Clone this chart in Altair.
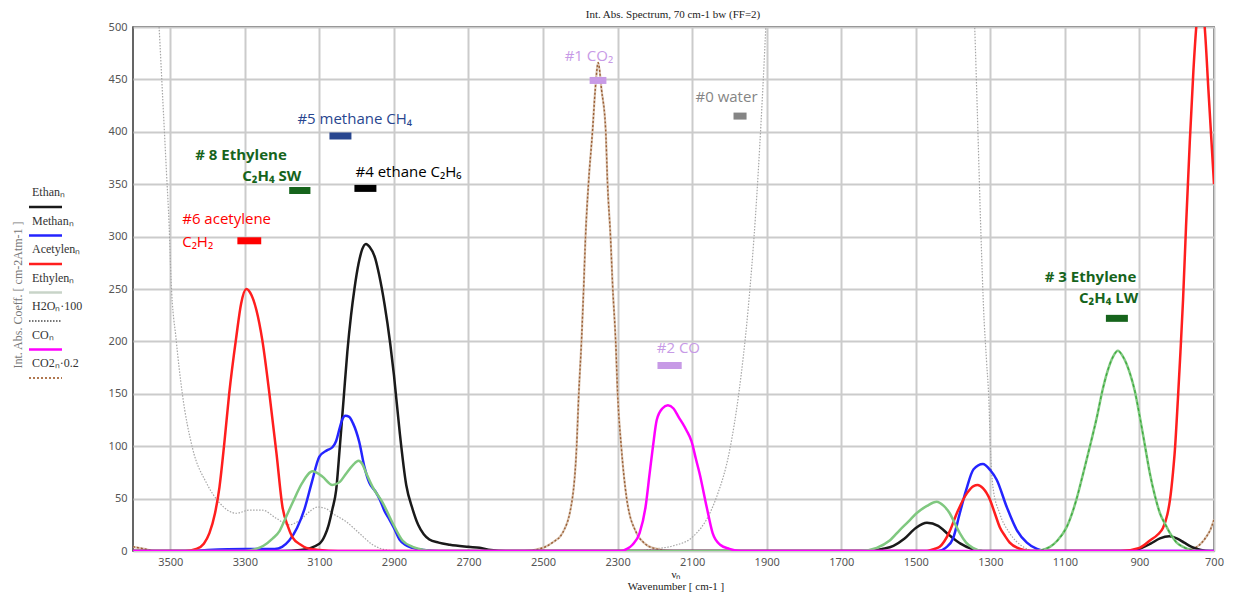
import altair as alt
import pandas as pd

# ---------------- data ----------------
ETHANE_WN = [3600, 3200, 3150, 3100, 3085, 3075, 3065, 3055, 3045, 3035, 3025, 3015, 3006, 2995, 2985, 2975, 2965, 2950, 2940, 2925,
             2910, 2900, 2885, 2867, 2850, 2835, 2820, 2805, 2780, 2750, 2700, 2670, 2640, 2600,
             1620, 1590, 1560, 1530, 1500, 1470, 1440, 1410, 1380, 1350, 1320,
             930, 900, 870, 845, 820, 800, 780, 760, 735, 710, 700]
ETHANE_V = [0, 0, 1, 7, 15, 25, 40, 58, 100, 145, 190, 225, 250, 274, 288, 293, 290, 279, 264, 235,
            198, 168, 115, 63, 40, 25, 16, 11, 8, 6, 4, 3, 1, 0,
            0, 2, 5, 12, 22, 27, 24, 15, 7, 2, 0,
            0, 2, 7, 12, 14, 12, 8, 4, 1, 0, 0]

METHANE_WN = [3600, 3450, 3400, 3300, 3220, 3200, 3181, 3160, 3140, 3120, 3100, 3080, 3065, 3055, 3045, 3038, 3030, 3020, 3010, 2993,
              2979, 2966, 2950, 2939, 2925, 2912, 2900, 2885, 2870, 2850, 2820, 2780,
              1440, 1420, 1400, 1382, 1365, 1345, 1320, 1300, 1283, 1256, 1229, 1202, 1175, 1150, 700]
METHANE_V = [0, 0, 1, 2, 2, 4, 10, 22, 40, 66, 90, 96, 99, 105, 118, 126, 129, 128, 122, 104,
             80, 65, 57, 50, 38, 30, 22, 11, 6, 3, 1, 0,
             0, 3, 12, 36, 58, 78, 83, 77, 68, 42, 20, 8, 2, 0, 0]

ACETYLENE_WN = [3600, 3460, 3430, 3410, 3395, 3380, 3368, 3355, 3342, 3323, 3310, 3296, 3282, 3269, 3253, 3234, 3215, 3199, 3185, 3172,
                3150, 3135, 3100, 3050,
                1470, 1450, 1436, 1410, 1390, 1363, 1345, 1334, 1320, 1301, 1288, 1275, 1260, 1248, 1220, 1190,
                950, 900, 872, 850, 837, 825, 818, 810, 805, 797, 790, 783, 775, 765, 755, 745, 735, 725, 715, 700]
ACETYLENE_V = [0, 0, 2, 7, 17, 36, 61, 103, 150, 204, 236, 250, 244, 230, 201, 150, 93, 42, 24, 13,
               6, 3, 1, 0,
               0, 2, 4, 18, 36, 55, 62, 63, 60, 49, 36, 23, 14, 8, 2, 0,
               0, 3, 10, 16, 22, 35, 49, 75, 96, 144, 190, 240, 310, 390, 460, 510, 525, 500, 440, 350]

ETHYLENE_WN = [3600, 3300, 3270, 3250, 3225, 3207, 3190, 3172, 3146, 3118, 3092, 3065, 3045, 3028, 3010, 2995, 2985, 2974, 2957, 2930,
               2904, 2877, 2850, 2820, 2790,
               1650, 1605, 1570, 1543, 1520, 1498, 1470, 1444, 1425, 1409, 1395, 1382, 1365, 1347, 1320,
               1180, 1140, 1120, 1095, 1070, 1051, 1030, 1014, 1000, 987, 970, 958, 945, 926, 912, 899, 885, 872, 858, 845,
               830, 818, 800, 783, 760, 740, 700]
ETHYLENE_V = [0, 0, 2, 5, 12, 19, 32, 46, 65, 76, 71, 63, 66, 74, 82, 86, 83, 74, 61, 46,
              27, 10, 4, 1, 0,
              0, 3, 10, 20, 28, 36, 43, 47, 43, 36, 26, 17, 8, 3, 0,
              0, 4, 10, 23, 48, 74, 104, 128, 152, 170, 186, 191, 186, 170, 152, 128, 100, 74, 52, 36,
              25, 17, 8, 4, 1, 0, 0]

WATER_WN = [3600, 3540, 3530, 3520, 3510, 3503, 3498, 3484, 3468, 3441, 3403, 3368, 3323, 3288, 3253, 3215, 3181, 3150, 3125, 3105,
            3080, 3065, 3028, 2993, 2957, 2920, 2880,
            2250, 2200, 2150, 2100, 2050, 2034, 2000, 1975, 1950, 1930, 1915, 1905, 1895, 1880,
            1365, 1350, 1342, 1335, 1325, 1318, 1310, 1304, 1300, 1293, 1275, 1248, 1212, 1180, 700]
WATER_V = [900, 560, 500, 430, 360, 310, 260, 201, 151, 99, 65, 46, 36, 39, 39, 31, 25, 30, 38, 42,
           40, 36, 28, 17, 6, 1, 0,
           0, 2, 5, 13, 38, 52, 95, 150, 230, 320, 410, 480, 560, 700,
           700, 560, 500, 420, 300, 230, 180, 144, 100, 61, 36, 17, 4, 0, 0]

CO2_WN = [3600, 3570, 3540, 2550, 2501, 2475, 2448, 2421, 2410, 2404, 2397, 2391, 2386, 2378, 2367, 2360, 2352, 2343, 2332, 2327,
          2319, 2313, 2305, 2300, 2290, 2276, 2249, 2230, 2206, 2150, 780, 760, 746, 730, 720, 710, 700]
CO2_V = [4, 2, 0, 0, 3, 8, 17, 51, 99, 151, 199, 251, 300, 351, 402, 440, 466, 440, 402, 351,
         300, 251, 199, 151, 99, 51, 17, 8, 3, 0, 0, 2, 4, 9, 14, 20, 30]

CO_WN = [3600, 2290, 2275, 2260, 2241, 2225, 2214, 2205, 2195, 2180, 2165, 2150, 2135, 2126, 2115, 2102, 2090, 2080, 2061, 2045,
         2025, 2000, 1970, 700]
CO_V = [0, 0, 2, 6, 17, 42, 74, 100, 125, 136, 139, 136, 127, 122, 115, 105, 88, 74, 42, 17,
        6, 2, 0, 0]

LABEL_TEXT = ["#6 acetylene", "C₂H₂", "# 8 Ethylene", "C₂H₄ SW", "#5 methane CH₄", "#4 ethane C₂H₆",
              "#1 CO₂", "#0 water", "#2 CO", "# 3 Ethylene", "C₂H₄ LW"]
LABEL_GROUP = ["acetylene", "acetylene", "ethylene", "ethylene", "methane", "ethane",
               "co2", "water", "co", "ethylene", "ethylene"]
LABEL_WN = [3468, 3468, 3433, 3307, 3159, 3003, 2442, 2091, 2195, 1154, 1062]
LABEL_V = [317, 295, 378, 358, 412, 362, 472, 433, 194, 261, 241]

BAR_GROUP = ["acetylene", "ethylene", "methane", "ethane", "co2", "water", "co", "ethylene"]
BAR_WN1 = [3320, 3181, 3073, 3006, 2375, 1989, 2193, 990]
BAR_WN2 = [3256, 3124, 3014, 2947, 2330, 1954, 2128, 931]
BAR_V = [296, 344, 396, 346, 449, 415, 177, 222]

LEGEND_LABELS = ["Ethanₙ", "Methanₙ", "Acetylenₙ", "Ethylenₙ", "H2Oₙ·100", "COₙ", "CO2ₙ·0.2"]

TITLE = "Int. Abs. Spectrum, 70 cm-1 bw (FF=2)"
X_TITLE = ["νₙ", "Wavenumber [ cm-1 ]"]
Y_TITLE = "Int. Abs. Coeff. [ cm-2Atm-1 ]"

X_TICKS = [3500, 3300, 3100, 2900, 2700, 2500, 2300, 2100, 1900, 1700, 1500, 1300, 1100, 900, 700]
Y_TICKS = [0, 50, 100, 150, 200, 250, 300, 350, 400, 450, 500]

# ---------------- styles ----------------
SERIF = "Liberation Serif"
SANS = "Noto Sans"
LABEL_FONT = "Open Sans"

TEXT_COLORS = {"acetylene": "#ff2424", "ethylene": "#1f6e22", "methane": "#2d4a9c", "ethane": "#1c2742",
               "co2": "#c29ae6", "water": "#6a6a6a", "co": "#c29ae6"}
BAR_COLORS = {"acetylene": "#ff0000", "ethylene": "#16641c", "methane": "#28468f", "ethane": "#000000",
              "co2": "#c79ae6", "water": "#858585", "co": "#c79ae6"}

xscale = alt.Scale(domain=[700, 3600], reverse=True, nice=False, zero=False)
yscale = alt.Scale(domain=[0, 500], nice=False)
xaxis = alt.Axis(values=X_TICKS, title=None, labelPadding=5, labelFlush=False, format="d")
yaxis = alt.Axis(values=Y_TICKS, title=None, labelPadding=6, format="d")

X = alt.X("wn:Q", scale=xscale, axis=xaxis)
Y = alt.Y("v:Q", scale=yscale, axis=yaxis)


def curve(wn, v, color, width, dash=None, filt=None):
    kw = dict(color=color, strokeWidth=width, interpolate="monotone", clip=True)
    if dash:
        kw["strokeDash"] = dash
    c = alt.Chart(pd.DataFrame({"wn": wn, "v": v}))
    if filt:
        c = c.transform_filter(filt)
    return c.mark_line(**kw).encode(x=X, y=Y)


layers = [
    curve(WATER_WN, WATER_V, "#a6a6a6", 1.2, [1.5, 1.5]),
    curve(CO2_WN, CO2_V, "#d9c3b0", 2.2),
    curve(CO2_WN, CO2_V, "#9a5e34", 1.4, [2, 2]),
    curve(ETHANE_WN, ETHANE_V, "#1a1a1a", 2.5),
    curve(METHANE_WN, METHANE_V, "#2424ff", 2.5),
    curve(ACETYLENE_WN, ACETYLENE_V, "#ff1e1e", 2.5),
    curve(ETHYLENE_WN, ETHYLENE_V, "#80c880", 2.5),
    curve(ETHYLENE_WN, ETHYLENE_V, "#3aaa3a", 1.2, [3, 3], "datum.wn < 1200"),
    curve(CO_WN, CO_V, "#ff00ff", 2.5),
]

bars = pd.DataFrame({"g": BAR_GROUP, "wn": BAR_WN1, "wn2": BAR_WN2, "v": BAR_V})
layers.append(
    alt.Chart(bars).mark_rule(strokeWidth=7).encode(
        x=X, x2="wn2:Q", y=Y,
        color=alt.Color("g:N", scale=alt.Scale(domain=list(BAR_COLORS), range=list(BAR_COLORS.values())), legend=None),
    )
)

labels = pd.DataFrame({"t": LABEL_TEXT, "g": LABEL_GROUP, "wn": LABEL_WN, "v": LABEL_V})
tcolor = alt.Color("g:N", scale=alt.Scale(domain=list(TEXT_COLORS), range=list(TEXT_COLORS.values())), legend=None)
layers.append(
    alt.Chart(labels).transform_filter("datum.g != 'ethylene'").mark_text(
        align="left", baseline="middle", font=LABEL_FONT, fontSize=15
    ).encode(x=X, y=Y, text="t:N", color=tcolor)
)
layers.append(
    alt.Chart(labels).transform_filter("datum.g == 'ethylene'").mark_text(
        align="left", baseline="middle", font=LABEL_FONT, fontSize=15, fontWeight="bold"
    ).encode(x=X, y=Y, text="t:N", color=tcolor)
)

# custom legend at the left of the plot
leg_styles = [("#1a1a1a", None), ("#2424ff", None), ("#ff1e1e", None), ("#c8d4c8", None),
              ("#777777", [1.5, 1.5]), ("#ff00ff", None), ("#b07850", [2, 2])]
one = pd.DataFrame({"k": [0]})
for i, (lab, (col, dash)) in enumerate(zip(LEGEND_LABELS, leg_styles)):
    ty = 165 + i * 28.5
    ly = 180 + i * 28.5
    layers.append(
        alt.Chart(pd.DataFrame({"t": [lab]})).mark_text(
            align="left", baseline="middle", font=SERIF, fontSize=12, color="#333"
        ).encode(text="t:N", x=alt.value(-101), y=alt.value(ty))
    )
    kw = dict(color=col, strokeWidth=2.5 if dash is None else 2)
    if dash:
        kw["strokeDash"] = dash
    layers.append(
        alt.Chart(one).mark_rule(**kw).encode(x=alt.value(-104), x2=alt.value(-71), y=alt.value(ly))
    )

# axis titles and chart title as text
layers.append(
    alt.Chart(pd.DataFrame({"t": [Y_TITLE]})).mark_text(
        angle=270, align="center", baseline="middle", font=SERIF, fontSize=12, color="#777"
    ).encode(text="t:N", x=alt.value(-115), y=alt.value(268))
)
for t, yy in zip(X_TITLE, [548, 560]):
    layers.append(
        alt.Chart(pd.DataFrame({"t": [t]})).mark_text(
            align="center", baseline="middle", font=SERIF, fontSize=11, color="#222"
        ).encode(text="t:N", x=alt.value(543), y=alt.value(yy))
    )
layers.append(
    alt.Chart(pd.DataFrame({"t": [TITLE]})).mark_text(
        align="center", baseline="middle", font=SERIF, fontSize=11, color="#222"
    ).encode(text="t:N", x=alt.value(540), y=alt.value(-12))
)

chart = alt.layer(*layers).properties(
    width=1081,
    height=524,
    autosize=alt.AutoSizeParams(type="none"),
    padding={"left": 125, "top": 19, "right": 11, "bottom": 43},
).configure_view(
    stroke="#333", strokeWidth=1.5
).configure_axis(
    grid=True, gridColor="#cbcbcb", gridWidth=2, domain=False, ticks=False,
    labelFont=SANS, labelFontSize=11, labelColor="#555"
)

chart.save("out.html", embed_options={"renderer": "svg", "actions": False})
